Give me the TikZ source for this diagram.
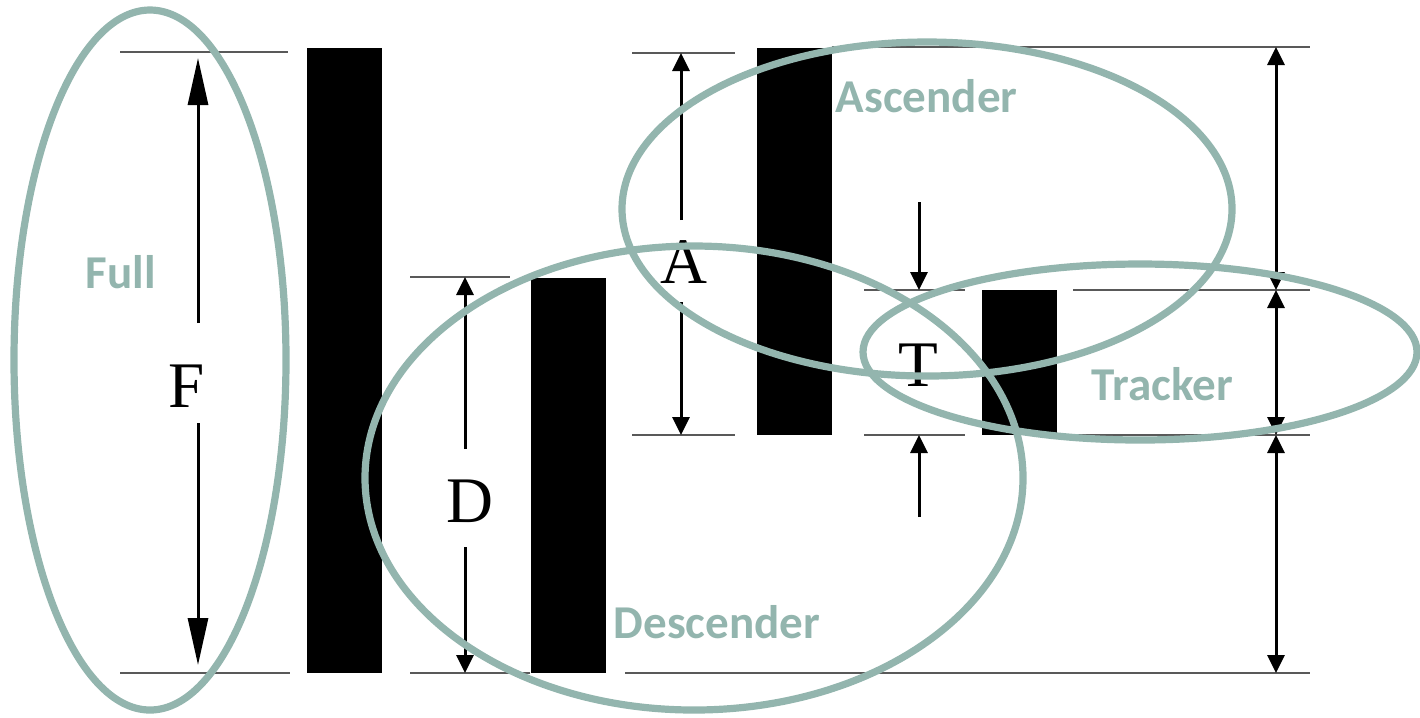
\documentclass[tikz,border=0pt]{standalone}
\usepackage{fontspec}
\setmainfont{Liberation Serif}
\newfontfamily\calfont{Carlito}
\usetikzlibrary{arrows.meta}
\definecolor{sage}{HTML}{93B5AE}
\begin{document}
\begin{tikzpicture}[x=0.1mm, y=-0.1mm,
    bar/.style={fill=black, inner sep=0pt, minimum width=7.5mm},
    guide/.style={draw=black!65, line width=0.22mm},
    dim/.style={line width=0.3mm, -{Triangle[length=1.8mm, width=1.7mm]}},
    dimboth/.style={line width=0.3mm, {Triangle[length=1.8mm, width=1.7mm]}-{Triangle[length=1.8mm, width=1.7mm]}},
    longdim/.style={line width=0.3mm, -{Triangle[length=4.7mm, width=2mm]}},
    ring/.style={draw=sage, line width=0.72mm},
    tag/.style={text=sage, font=\calfont\bfseries\fontsize{13.4}{16}\selectfont, anchor=base west, inner sep=0pt},
    sym/.style={font=\fontsize{18.5}{22}\selectfont, anchor=base, inner sep=0pt}]
  \useasboundingbox (0,0) rectangle (1420,717);
  % bars
  \node[bar, minimum height=62.5mm] (full) at (344,360.5) {};
  \node[bar, minimum height=39.5mm] (desc) at (568.5,475.5) {};
  \node[bar, minimum height=38.7mm] (asc) at (794.5,241.5) {};
  \node[bar, minimum height=14.5mm] (track) at (1019.5,362.5) {};
  % guide lines
  \coordinate (g1a) at (120,52);   \coordinate (g1b) at (288,52);
  \coordinate (g2a) at (120,673);  \coordinate (g2b) at (290,673);
  \coordinate (g3a) at (410,277);  \coordinate (g3b) at (510,277);
  \coordinate (g4a) at (410,673);  \coordinate (g4b) at (530,673);
  \coordinate (g5a) at (625,673);  \coordinate (g5b) at (1310,673);
  \coordinate (g6a) at (632,53);   \coordinate (g6b) at (735,53);
  \coordinate (g7a) at (632,435);  \coordinate (g7b) at (735,435);
  \coordinate (g8a) at (832,47);   \coordinate (g8b) at (1310,47);
  \coordinate (g9a) at (864,290);  \coordinate (g9b) at (965,290);
  \coordinate (g10a) at (1073,290); \coordinate (g10b) at (1310,290);
  \coordinate (g11a) at (864,435); \coordinate (g11b) at (965,435);
  \coordinate (g12a) at (1057,435); \coordinate (g12b) at (1310,435);
  \foreach \g in {g1,g2,g3,g4,g5,g6,g7,g8,g9,g10,g11,g12}
    \draw[guide] (\g a) -- (\g b);
  % labels
  \node[sym] (labF) at (187,407) {F};
  \node[sym] (labD) at (470,522) {D};
  \node[sym] (labA) at (684,283) {A};
  \node[sym] (labT) at (918,386) {T};
  % dimension arrows
  \coordinate (Fup) at (198,323);  \coordinate (Ftop) at (198,58);
  \coordinate (Flow) at (198,423); \coordinate (Fbot) at (198,665);
  \draw[longdim] (Fup) -- (Ftop);
  \draw[longdim] (Flow) -- (Fbot);
  \coordinate (Dup) at (465,449);  \coordinate (Dtop) at (465,277);
  \coordinate (Dlow) at (465,547); \coordinate (Dbot) at (465,673);
  \draw[dim] (Dup) -- (Dtop);
  \draw[dim] (Dlow) -- (Dbot);
  \coordinate (Aup) at (681,220);  \coordinate (Atop) at (681,53);
  \coordinate (Alow) at (681,302); \coordinate (Abot) at (681,435);
  \draw[dim] (Aup) -- (Atop);
  \draw[dim] (Alow) -- (Abot);
  \coordinate (Tin) at (919,202);  \coordinate (Ttop) at (919,290);
  \coordinate (Tout) at (919,517); \coordinate (Tbot) at (919,435);
  \draw[dim] (Tin) -- (Ttop);
  \draw[dim] (Tout) -- (Tbot);
  \coordinate (R1) at (1276,47);  \coordinate (R2) at (1276,290);
  \coordinate (R3) at (1276,435); \coordinate (R4) at (1276,673);
  \draw[dimboth] (R1) -- (R2);
  \draw[dimboth] (R2) -- (R3);
  \draw[dimboth] (R3) -- (R4);
  % group names
  \node[tag] (tFull) at (85,288) {Full};
  \node[tag] (tAsc) at (835,112) {Ascender};
  \node[tag] (tTrack) at (1091,400) {Tracker};
  \node[tag] (tDesc) at (613,638) {Descender};
  % rings
  \draw[ring] (150,360) ellipse [x radius=13.6mm, y radius=35mm];
  \draw[ring] (694,478) ellipse [x radius=32.9mm, y radius=23.2mm];
  \draw[ring] (927,209) ellipse [x radius=30.5mm, y radius=16.7mm];
  \draw[ring] (1140,352) ellipse [x radius=27.7mm, y radius=8.8mm];
\end{tikzpicture}
\end{document}
